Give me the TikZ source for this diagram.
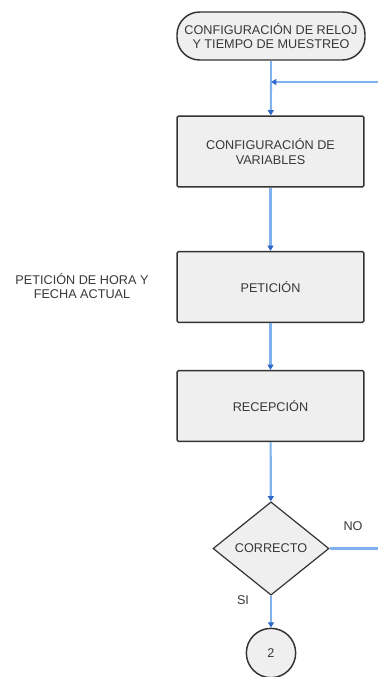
\documentclass[tikz,border=0pt]{standalone}
\usepackage{fontspec}
\setmainfont{Liberation Sans}
\tikzset{font={\fontsize{9.5pt}{11pt}\selectfont}}
\usetikzlibrary{
	calc,
	arrows.meta,
	shapes,
	positioning
	}
\definecolor{fond}{HTML}{EFEFEF}
\definecolor{trait}{HTML}{333333}
\definecolor{texte}{HTML}{383838}
\definecolor{fleche}{HTML}{80B2EE}
\definecolor{pointe}{HTML}{2F68C8}
\tikzstyle{bloc-std}=[draw=trait,fill=fond,line width=1.1pt,rounded corners=1pt,minimum width=140pt,minimum height=53pt,align=center,text=texte]
\tikzstyle{terminal-std}=[bloc-std,rounded corners=17pt,minimum width=141pt,minimum height=36pt,inner sep=0pt]
\tikzstyle{decision-std}=[draw=trait,fill=fond,line width=0.9pt,diamond,inner sep=0pt,minimum width=87pt,minimum height=70pt,text=texte]
\tikzstyle{renvoi-std}=[draw=trait,fill=fond,line width=1.1pt,circle,inner sep=0pt,minimum size=37pt,text=texte]
\tikzstyle{lien}=[draw=fleche,line width=1.6pt,-{Triangle[length=4pt,width=4.5pt,color=pointe]}]
\tikzstyle{etiquette}=[text=texte,align=center]

\begin{document}
\begin{tikzpicture}[x=0.75pt,y=-0.75pt]
            \useasboundingbox (0,0) rectangle (378,677);
            %
            \node[terminal-std] (debut) at (271,36) {CONFIGURACIÓN DE RELOJ\\Y TIEMPO DE MUESTREO};
            \node[bloc-std] (config) at (270.5,151.5) {CONFIGURACIÓN DE\\VARIABLES};
            \node[bloc-std] (peticion) at (270.5,287) {PETICIÓN};
            \node[bloc-std] (recepcion) at (270.5,406) {RECEPCIÓN};
            \node[decision-std] (correcto) at (271,548.5) {CORRECTO};
            \node[renvoi-std] (conector) at (271,653) {2};
            %
            \coordinate (union) at (271,82);
            \coordinate (retour) at (378,82);
            \coordinate (sortie-no) at (378,548.5);
            %
            \node[etiquette] (nota) at (82,286) {PETICIÓN DE HORA Y\\FECHA ACTUAL};
            \node[etiquette] (no) at (353,526) {NO};
            \node[etiquette] (si) at (243,600) {SI};
            %
            \draw[draw=fleche,line width=1.6pt] (debut) -- (union);
            \draw[lien] (retour) -- (union);
            \draw[lien] (union) -- (config);
            \draw[lien] (config) -- (peticion);
            \draw[lien] (peticion) -- (recepcion);
            \draw[lien] (recepcion) -- (correcto);
            \draw[lien] (correcto) -- (conector);
            \draw[draw=fleche,line width=1.6pt] (correcto.east) -- (sortie-no);
        \end{tikzpicture}
\end{document}
